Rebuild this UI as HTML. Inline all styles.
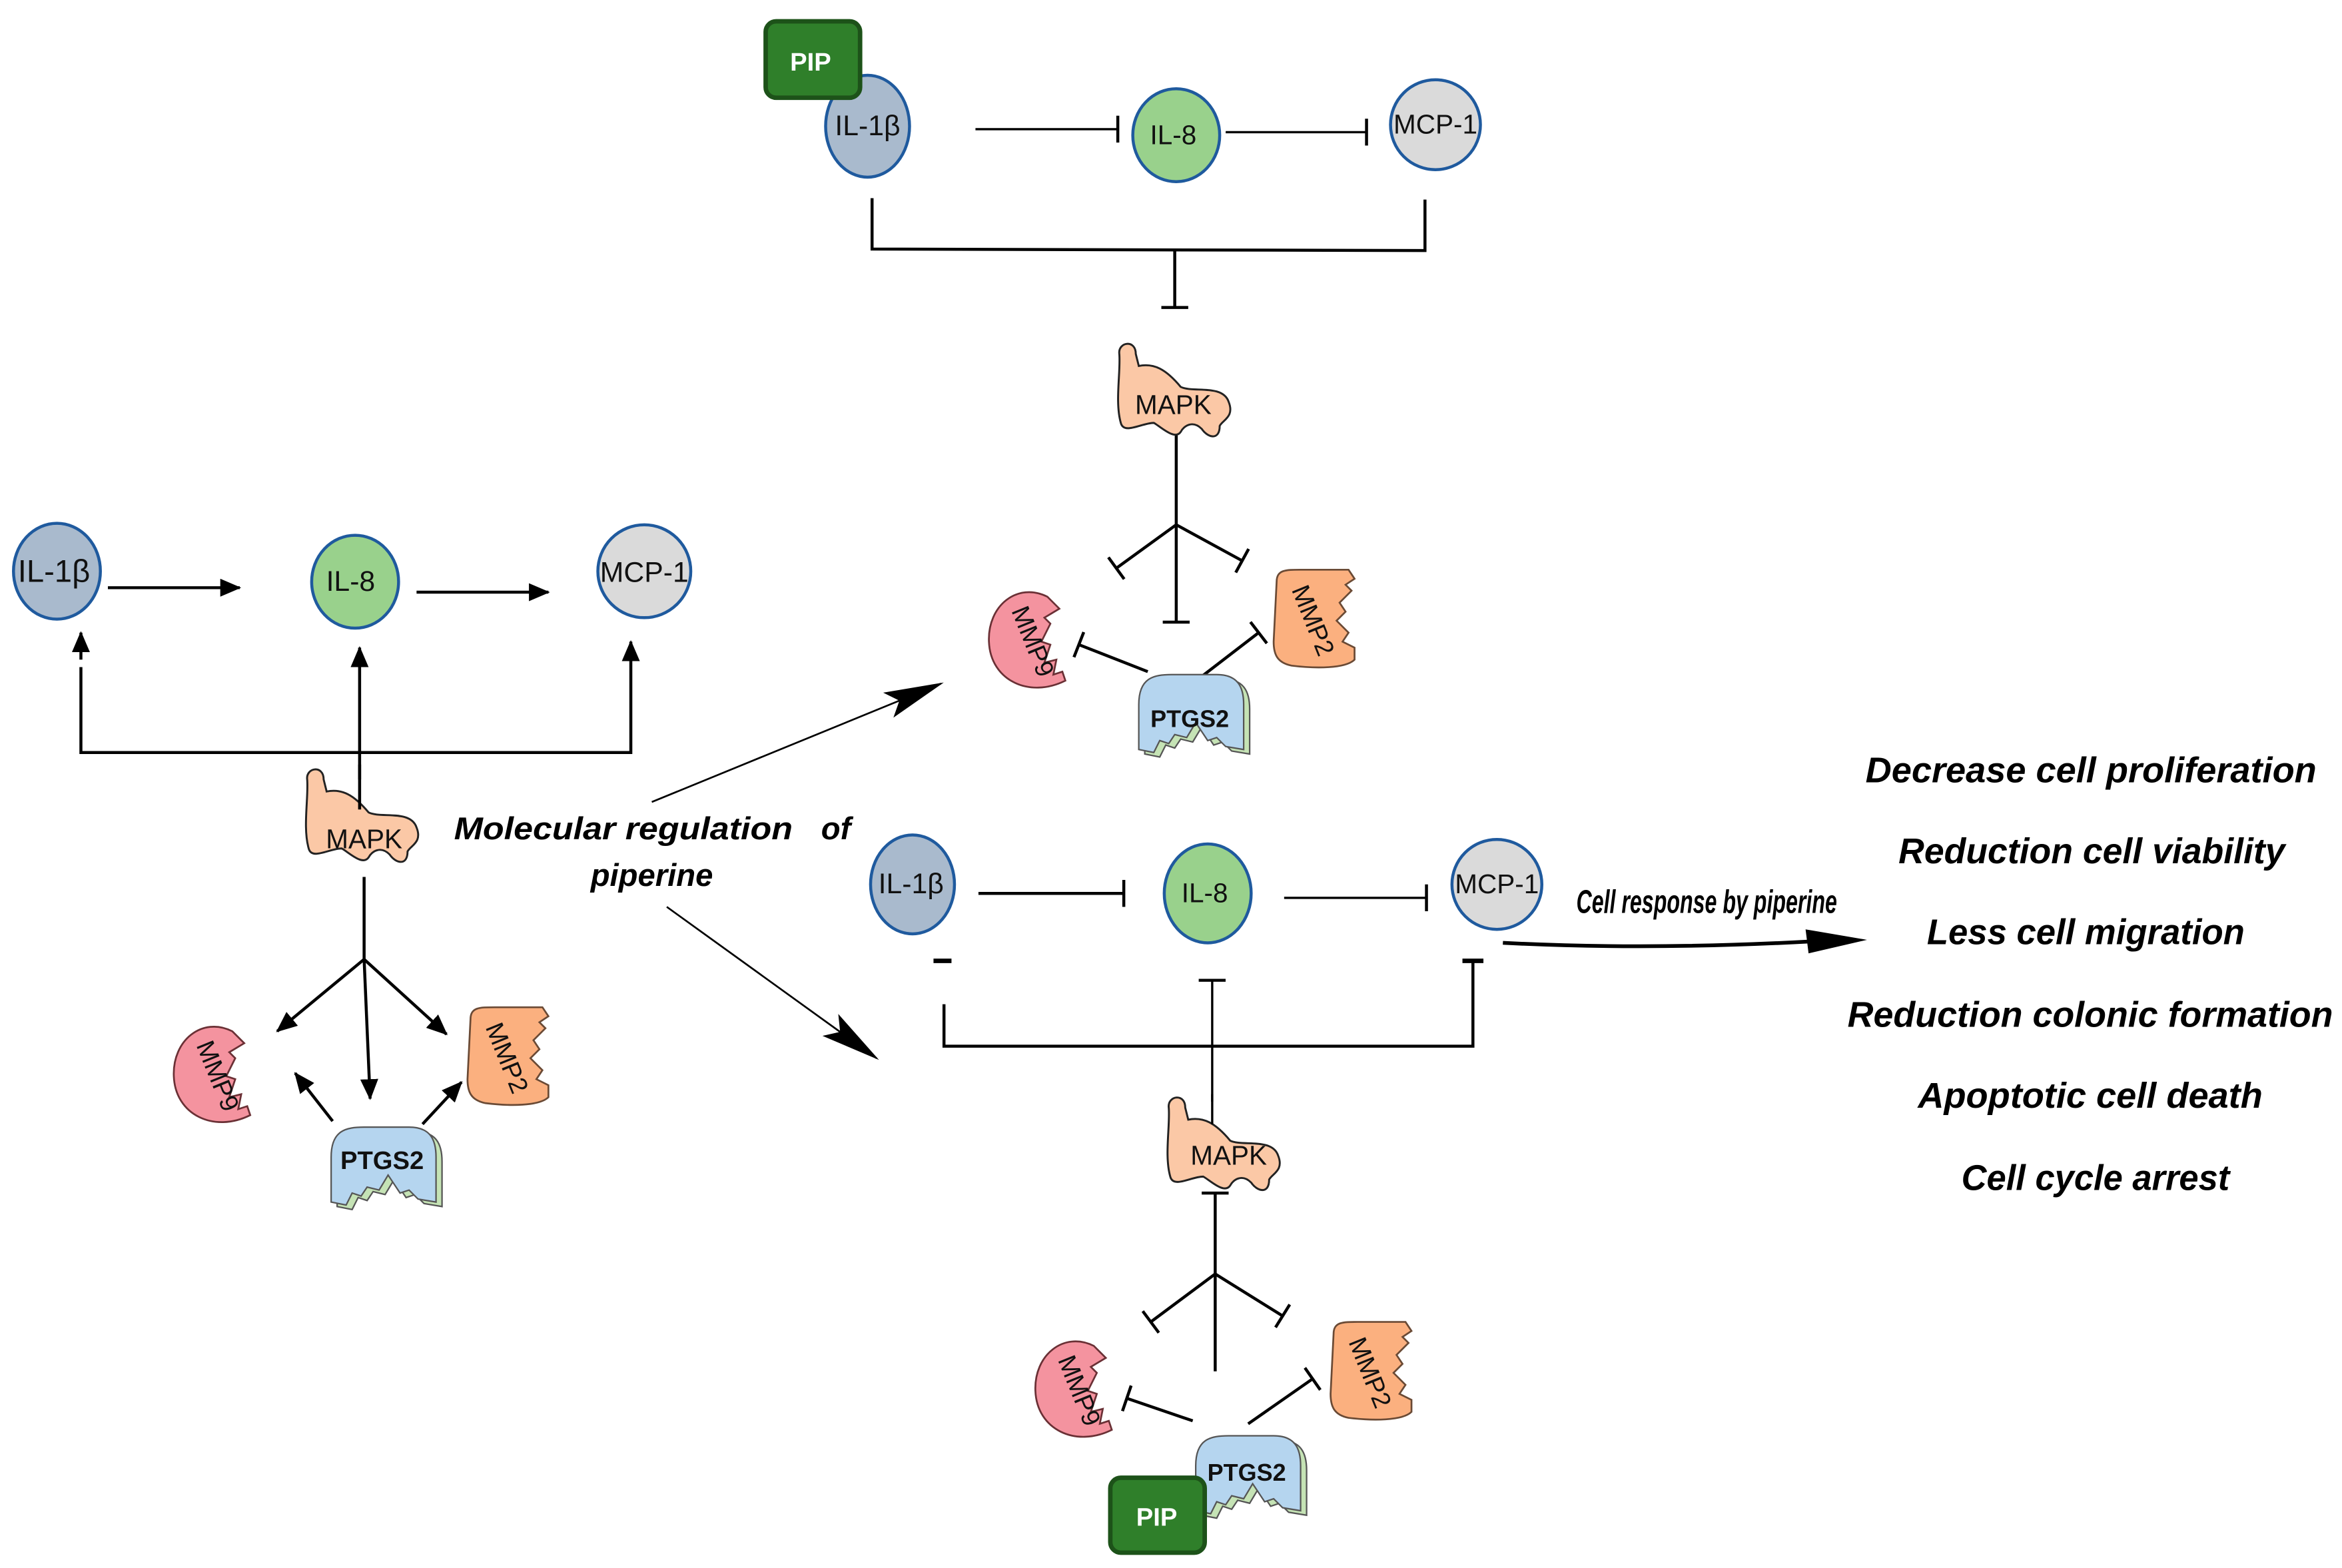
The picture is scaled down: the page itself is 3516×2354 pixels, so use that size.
<!DOCTYPE html>
<html><head><meta charset="utf-8"><style>
html,body{margin:0;padding:0;background:#fff}
svg{display:block}
text{font-family:"Liberation Sans",sans-serif}
</style></head><body>
<svg width="3516" height="2354" viewBox="0 0 1563 1046" xmlns="http://www.w3.org/2000/svg">
<defs>
<marker id="arr" markerUnits="userSpaceOnUse" markerWidth="14" markerHeight="12" viewBox="0 0 14 12" refX="13" refY="6" orient="auto"><path d="M0,0 L14,6 L0,12 Z" fill="#000"/></marker>
<marker id="bar" markerUnits="userSpaceOnUse" markerWidth="4" markerHeight="18" viewBox="0 0 4 18" refX="2" refY="9" orient="auto"><path d="M2,0 L2,18" stroke="#000" stroke-width="2"/></marker>
<marker id="bigarr" markerUnits="userSpaceOnUse" markerWidth="40" markerHeight="22" viewBox="0 0 40 22" refX="38" refY="11" orient="auto"><path d="M0,2 L40,11 L0,20 L8,11 Z" fill="#000"/></marker>
<g id="mapk"><path d="M3,8 C2,0 14,-2 14,8 L16,16 C26,14 34,18 44,30 C52,34 72,28 76,40 C80,50 72,52 70,56 C70,66 62,64 58,58 C52,52 46,56 44,60 C40,66 30,56 26,54 C18,54 6,62 4,54 C0,40 4,20 3,8Z" fill="#fbc8a6" stroke="#222" stroke-width="1.3"/></g>
<g id="mmp9"><path d="M40,6 C20,-4 0,12 1,36 C2,62 28,74 52,62 L50,56 L44,58 L46,48 L38,50 L42,38 L36,36 L42,24 L38,20 L48,14 Z" fill="#f4939f" stroke="#6a3035" stroke-width="1.2"/></g>
<g id="mmp2"><path d="M4,8 C4,0 10,0 20,0 L52,0 L56,6 L50,10 L54,14 L46,22 L50,28 L44,34 L52,42 L48,48 L56,52 L56,60 C50,66 30,66 14,64 C4,62 2,56 2,48 Z" fill="#fbb07f" stroke="#6a4a35" stroke-width="1.2"/></g>
<g id="ptgs"><path d="M8,23 C8,5 18,3 30,3 L60,3 C74,3 78,11 78,23 L78,53 L66,51 L60,45 L54,47 L46,35 L40,45 L32,43 L28,49 L22,47 L18,55 L8,53 Z" fill="#c5e3b5" stroke="#555" stroke-width="1"/><path d="M4,20 C4,2 14,0 26,0 L56,0 C70,0 74,8 74,20 L74,50 L62,48 L56,42 L50,44 L42,32 L36,42 L28,40 L24,46 L18,44 L14,52 L4,50 Z" fill="#b5d5ef" stroke="#555" stroke-width="1"/></g>
</defs>
<g stroke="#000" stroke-width="2" fill="none">
<line x1="72" y1="392" x2="160" y2="392" marker-end="url(#arr)"/>
<line x1="278" y1="395" x2="366" y2="395" marker-end="url(#arr)"/>
<polyline points="54,445 54,502 421,502 421,430" />
<line x1="54" y1="440" x2="54" y2="422" marker-end="url(#arr)"/>
<line x1="421" y1="440" x2="421" y2="428" marker-end="url(#arr)"/>
<line x1="240" y1="520" x2="240" y2="432" marker-end="url(#arr)"/>
<line x1="243" y1="585" x2="243" y2="640"/>
<line x1="243" y1="640" x2="185" y2="688" marker-end="url(#arr)"/>
<line x1="243" y1="640" x2="298" y2="690" marker-end="url(#arr)"/>
<line x1="243" y1="640" x2="247" y2="733" marker-end="url(#arr)"/>
<line x1="222" y1="748" x2="197" y2="716" marker-end="url(#arr)"/>
<line x1="282" y1="750" x2="308" y2="722" marker-end="url(#arr)"/>
<path d="M435,535 L628,456" stroke-width="1.2" marker-end="url(#bigarr)"/>
<path d="M445,605 L585,706" stroke-width="1.2" marker-end="url(#bigarr)"/>
<line x1="651" y1="86" x2="746" y2="86" stroke-width="1.5" marker-end="url(#bar)"/>
<line x1="818" y1="88" x2="912" y2="88" stroke-width="1.5" marker-end="url(#bar)"/>
<polyline points="582,132 582,166 951,167 951,133"/>
<line x1="784" y1="167" x2="784" y2="205" marker-end="url(#bar)"/>
<line x1="785" y1="290" x2="785" y2="415" marker-end="url(#bar)"/>
<line x1="785" y1="350" x2="745" y2="379" marker-end="url(#bar)"/>
<line x1="785" y1="350" x2="829" y2="374" marker-end="url(#bar)"/>
<line x1="766" y1="448" x2="720" y2="430" marker-end="url(#bar)"/>
<line x1="801" y1="452" x2="840" y2="422" marker-end="url(#bar)"/>
<line x1="653" y1="596" x2="750" y2="596" marker-end="url(#bar)"/>
<line x1="857" y1="599" x2="952" y2="599" stroke-width="1.5" marker-end="url(#bar)"/>
<line x1="623" y1="641" x2="635" y2="641" stroke-width="3"/>
<polyline points="630,670 630,698 983,698 983,641"/>
<line x1="976" y1="641" x2="990" y2="641" stroke-width="3"/>
<line x1="809" y1="735" x2="809" y2="654" stroke-width="1.5" marker-end="url(#bar)"/>
<line x1="811" y1="915" x2="811" y2="796" marker-end="url(#bar)"/>
<line x1="811" y1="850" x2="768" y2="882" marker-end="url(#bar)"/>
<line x1="811" y1="850" x2="856" y2="878" marker-end="url(#bar)"/>
<line x1="796" y1="948" x2="752" y2="933" marker-end="url(#bar)"/>
<line x1="833" y1="950" x2="876" y2="920" marker-end="url(#bar)"/>
<path d="M1003,629 Q1100,634 1210,628" stroke-width="2.5"/>
<path d="M1205,620 L1246,627 L1207,636 Z" fill="#000" stroke="none"/>
</g>

<ellipse cx="38" cy="381" rx="29" ry="32" fill="#a9bacd" stroke="#1f5a9e" stroke-width="2"/>
<text x="36" y="388" font-size="21" text-anchor="middle" fill="#111">IL-1β</text>
<ellipse cx="237" cy="388" rx="29" ry="31" fill="#99d18c" stroke="#1f5a9e" stroke-width="2"/>
<text x="234" y="394" font-size="19" text-anchor="middle" fill="#111">IL-8</text>
<ellipse cx="430" cy="381" rx="31" ry="31" fill="#dadada" stroke="#1f5a9e" stroke-width="2"/>
<text x="430" y="388" font-size="19" text-anchor="middle" fill="#111">MCP-1</text>
<use href="#mapk" transform="translate(202,512)"/>
<line x1="240" y1="510" x2="240" y2="540" stroke="#000" stroke-width="2"/>
<text x="243" y="566" font-size="18" text-anchor="middle" fill="#111">MAPK</text>
<use href="#mmp9" transform="translate(115,682)"/>
<text transform="translate(140,720) rotate(68)" font-size="17" text-anchor="middle" fill="#111">MMP9</text>
<use href="#mmp2" transform="translate(310,672)"/>
<text transform="translate(333,708) rotate(68)" font-size="17" text-anchor="middle" fill="#111">MMP2</text>
<use href="#ptgs" transform="translate(217,752)"/>
<text x="255" y="780" font-size="17" font-weight="bold" text-anchor="middle" fill="#111">PTGS2</text>

<text x="303" y="560" font-size="21" font-weight="bold" font-style="italic" textLength="226" lengthAdjust="spacingAndGlyphs">Molecular regulation</text>
<text x="548" y="560" font-size="21" font-weight="bold" font-style="italic">of</text>
<text x="435" y="591" font-size="21" font-weight="bold" font-style="italic" text-anchor="middle">piperine</text>

<ellipse cx="579" cy="84" rx="28" ry="34" fill="#a9bacd" stroke="#1f5a9e" stroke-width="2"/>
<text x="579" y="90" font-size="19" text-anchor="middle" fill="#111">IL-1β</text>
<rect x="511" y="14" width="63" height="51" rx="7" fill="#2f7f2a" stroke="#1d5219" stroke-width="3"/>
<text x="541" y="47" font-size="17" font-weight="bold" text-anchor="middle" fill="#fff">PIP</text>
<ellipse cx="785" cy="90" rx="29" ry="31" fill="#99d18c" stroke="#1f5a9e" stroke-width="2"/>
<text x="783" y="96" font-size="18" text-anchor="middle" fill="#111">IL-8</text>
<ellipse cx="958" cy="83" rx="30" ry="30" fill="#dadada" stroke="#1f5a9e" stroke-width="2"/>
<text x="958" y="89" font-size="18" text-anchor="middle" fill="#111">MCP-1</text>
<use href="#mapk" transform="translate(744,228)"/>
<text x="783" y="276" font-size="18" text-anchor="middle" fill="#111">MAPK</text>
<use href="#mmp9" transform="translate(659,392)"/>
<text transform="translate(684,430) rotate(68)" font-size="17" text-anchor="middle" fill="#111">MMP9</text>
<use href="#mmp2" transform="translate(848,380)"/>
<text transform="translate(871,416) rotate(68)" font-size="17" text-anchor="middle" fill="#111">MMP2</text>
<use href="#ptgs" transform="translate(756,450)"/>
<text x="794" y="485" font-size="16" font-weight="bold" text-anchor="middle" fill="#111">PTGS2</text>

<ellipse cx="609" cy="590" rx="28" ry="33" fill="#a9bacd" stroke="#1f5a9e" stroke-width="2"/>
<text x="608" y="596" font-size="19" text-anchor="middle" fill="#111">IL-1β</text>
<ellipse cx="806" cy="596" rx="29" ry="33" fill="#99d18c" stroke="#1f5a9e" stroke-width="2"/>
<text x="804" y="602" font-size="18" text-anchor="middle" fill="#111">IL-8</text>
<ellipse cx="999" cy="590" rx="30" ry="30" fill="#dadada" stroke="#1f5a9e" stroke-width="2"/>
<text x="999" y="596" font-size="18" text-anchor="middle" fill="#111">MCP-1</text>
<use href="#mapk" transform="translate(777,731)"/>
<line x1="809" y1="730" x2="809" y2="750" stroke="#000" stroke-width="1.5"/>
<text x="820" y="777" font-size="18" text-anchor="middle" fill="#111">MAPK</text>
<use href="#mmp9" transform="translate(690,892)"/>
<text transform="translate(715,930) rotate(68)" font-size="17" text-anchor="middle" fill="#111">MMP9</text>
<use href="#mmp2" transform="translate(886,882)"/>
<text transform="translate(909,918) rotate(68)" font-size="17" text-anchor="middle" fill="#111">MMP2</text>
<use href="#ptgs" transform="translate(794,958)"/>
<text x="832" y="988" font-size="16" font-weight="bold" text-anchor="middle" fill="#111">PTGS2</text>
<rect x="741" y="986" width="63" height="50" rx="7" fill="#2f7f2a" stroke="#1d5219" stroke-width="3"/>
<text x="772" y="1018" font-size="17" font-weight="bold" text-anchor="middle" fill="#fff">PIP</text>

<text x="1052" y="609" font-size="22" font-style="italic" font-weight="bold" textLength="174" lengthAdjust="spacingAndGlyphs">Cell response by piperine</text>

<g font-size="24" font-weight="bold" font-style="italic" fill="#000">
<text x="1245" y="522" textLength="301" lengthAdjust="spacingAndGlyphs">Decrease cell proliferation</text>
<text x="1267" y="576" textLength="258" lengthAdjust="spacingAndGlyphs">Reduction cell viability</text>
<text x="1286" y="630" textLength="212" lengthAdjust="spacingAndGlyphs">Less cell migration</text>
<text x="1233" y="685" textLength="324" lengthAdjust="spacingAndGlyphs">Reduction colonic formation</text>
<text x="1280" y="739" textLength="230" lengthAdjust="spacingAndGlyphs">Apoptotic cell death</text>
<text x="1309" y="794" textLength="179" lengthAdjust="spacingAndGlyphs">Cell cycle arrest</text>
</g>
</svg>
</body></html>
